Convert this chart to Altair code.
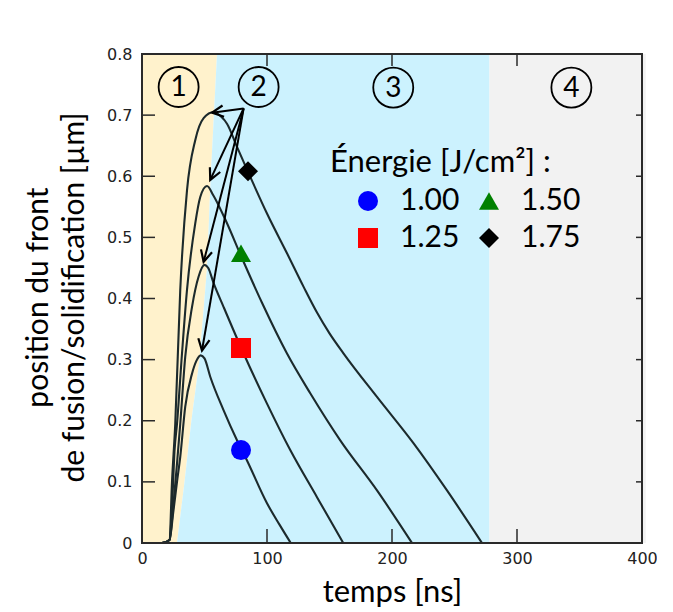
import math
import altair as alt
import pandas as pd

# ---------------- data ----------------
energies = ["1.00", "1.25", "1.50", "1.75"]

c1_t = [16, 22, 25, 28, 30.6, 34.6, 40, 43.5, 47, 50, 54.6, 65.3, 76, 84, 100, 110, 119]
c1_v = [0, 0.005, 0.05, 0.1, 0.141, 0.223, 0.277, 0.298, 0.307, 0.302, 0.272, 0.217, 0.168, 0.135, 0.065, 0.03, 0]

c2_t = [16, 22, 25, 28, 30.6, 34.6, 40, 45.3, 50, 53, 57.3, 65.3, 81.3, 100, 118.6, 140, 161]
c2_v = [0, 0.005, 0.06, 0.13, 0.195, 0.305, 0.386, 0.436, 0.455, 0.45, 0.425, 0.386, 0.31, 0.228, 0.152, 0.075, 0]

c3_t = [16, 22, 24.5, 26, 28, 32, 36, 42.6, 46.6, 52, 57, 66, 80, 96, 116, 134.6, 158.6, 188, 216]
c3_v = [0, 0.005, 0.08, 0.15, 0.195, 0.31, 0.414, 0.523, 0.566, 0.584, 0.569, 0.532, 0.466, 0.393, 0.31, 0.245, 0.168, 0.086, 0]

c4_t = [16, 22, 24, 26.6, 30.6, 36, 42.6, 49.3, 57.5, 63, 68, 76, 86.6, 100, 116, 129.3, 140, 150, 161.3, 188, 217.3, 244, 272]
c4_v = [0, 0.005, 0.1, 0.195, 0.414, 0.577, 0.659, 0.695, 0.705, 0.698, 0.686, 0.648, 0.599, 0.539, 0.474, 0.419, 0.377, 0.343, 0.31, 0.239, 0.163, 0.086, 0]

# markers
mk_t = [79.2, 79.2, 79.2, 84.8]
mk_v = [0.152, 0.319, 0.474, 0.608]
mk_colors = ["#0000FF", "#FF0000", "#008000", "#000000"]
mk_shapes = ["circle", "square", "triangle-up", "diamond"]

# melt-front boundary between zone 1 and zone 2 (value, time)
bd_v = [0, 0.1, 0.2, 0.3, 0.45, 0.6, 0.7, 0.8]
bd_t = [28, 34, 39.5, 46, 52, 55, 57.5, 60]
zone3_end = 278

# zone labels
zone_labels = ["1", "2", "3", "4"]
zone_t = [29.3, 93.3, 201, 343.5]
zone_v = [0.746, 0.746, 0.745, 0.745]

# arrows from label 2 to each peak
arrow_from = (81.3, 0.711)
arrow_tip_t = [48, 49.3, 54.6, 56]
arrow_tip_v = [0.315, 0.46, 0.594, 0.704]

x_ticks = [100, 200, 300]
y_ticks = [0.1, 0.2, 0.3, 0.4, 0.5, 0.6, 0.7]

# ---------------- layout ----------------
W, H = 500, 489
XMAX, YMAX = 400, 0.8
sx = W / XMAX
sy = H / YMAX

xs = alt.Scale(domain=[0, XMAX], nice=False, zero=False)
ys = alt.Scale(domain=[0, YMAX], nice=False, zero=False)

xaxis = alt.Axis(values=[0, 100, 200, 300, 400], ticks=False, tickSize=0, domain=False, grid=False,
                 labelFont="DejaVu Sans", labelFontSize=16, labelColor="#222", labelPadding=7,
                 labelFlush=False,
                 titleFont="Lato", titleFontSize=31, titleFontWeight="normal", titleColor="#000",
                 titleBaseline="alphabetic", titleY=58)
yaxis = alt.Axis(values=[0, 0.1, 0.2, 0.3, 0.4, 0.5, 0.6, 0.7, 0.8], format=".1~f", ticks=False, tickSize=0,
                 domain=False, grid=False, labelFont="DejaVu Sans", labelFontSize=16, labelColor="#222",
                 labelPadding=10, labelFlush=False,
                 titleFont="Lato", titleFontSize=30, titleFontWeight="normal", titleColor="#000",
                 titleBaseline="alphabetic", titleX=-95, titleY=243, titleLineHeight=36, titleAngle=270)
XT = "temps [ns]"
YT = ["position du front", "de fusion/solidification [µm]"]


def X(f):
    return alt.X(f, type="quantitative", scale=xs, axis=xaxis, title=XT)


def Y(f):
    return alt.Y(f, type="quantitative", scale=ys, axis=yaxis, title=YT)


# ---------------- tables ----------------
curves = []
for e, ts, vs in zip(energies, [c1_t, c2_t, c3_t, c4_t], [c1_v, c2_v, c3_v, c4_v]):
    for t, v in zip(ts, vs):
        curves.append({"energie": e, "t": t, "v": v})
curves = pd.DataFrame(curves)

bd = pd.DataFrame({"v": bd_v, "t": bd_t, "t0": [0] * len(bd_v), "t3": [zone3_end] * len(bd_v)})
gray = pd.DataFrame({"t": [zone3_end], "t2": [XMAX + 3], "v": [0], "v2": [YMAX]})

mk = pd.DataFrame({"energie": energies, "t": mk_t, "v": mk_v})
zones = pd.DataFrame({"lab": zone_labels, "t": zone_t, "v": zone_v})

arr = []
for tt, tv in zip(arrow_tip_t, arrow_tip_v):
    dx = (tt - arrow_from[0]) * sx
    dy = -(tv - arrow_from[1]) * sy
    ang = math.degrees(math.atan2(dy, dx)) % 360
    arr.append({"t": arrow_from[0], "v": arrow_from[1], "t2": tt, "v2": tv, "ang": ang})
arr = pd.DataFrame(arr)

frame = pd.DataFrame({"t": [0], "t2": [XMAX], "v": [0], "v2": [YMAX]})
ticks_rows = []
for yv in y_ticks:
    ticks_rows.append({"t": 0, "t2": 13 / sx, "v": yv, "v2": yv})
    ticks_rows.append({"t": XMAX, "t2": XMAX - 6 / sx, "v": yv, "v2": yv})
for xv in x_ticks:
    ticks_rows.append({"t": xv, "t2": xv, "v": 0, "v2": 14 / sy})
    ticks_rows.append({"t": xv, "t2": xv, "v": YMAX, "v2": YMAX - 12 / sy})
ticks = pd.DataFrame(ticks_rows)

# ---------------- layers ----------------
yellow = alt.Chart(bd).mark_area(orient="horizontal", color="#FFF2CC").encode(
    y=Y("v"), x=X("t"), x2="t0")
blue = alt.Chart(bd).mark_area(orient="horizontal", color="#CCF2FE").encode(
    y=Y("v"), x=X("t"), x2="t3")
grayrect = alt.Chart(gray).mark_rect(color="#F2F2F2").encode(
    x=X("t"), x2="t2", y=Y("v"), y2="v2")

lines = alt.Chart(curves).mark_line(color="#1c2a2c", strokeWidth=2.1, interpolate="monotone").encode(
    x=X("t"), y=Y("v"), detail="energie:N", order="t:Q")

arrows = alt.Chart(arr).mark_rule(color="#000", strokeWidth=2).encode(
    x=X("t"), y=Y("v"), x2="t2", y2="v2")
heads = alt.Chart(arr).mark_point(shape="M -1 -0.5 L 0 0 L -1 0.5", size=520, filled=False,
                                  color="#000", strokeWidth=2.2, opacity=1).encode(
    x=X("t2"), y=Y("v2"), angle=alt.Angle("ang:Q", scale=None))

zone_circ = alt.Chart(zones).mark_point(shape="circle", size=1600, filled=False, color="#000",
                                        strokeWidth=1.8, opacity=1).encode(x=X("t"), y=Y("v"))
zone_txt = alt.Chart(zones).mark_text(font="Lato", fontSize=28, color="#000", baseline="middle",
                                      dy=1).encode(x=X("t"), y=Y("v"), text="lab:N")

leg = alt.Legend(title=None, orient="none", legendX=211, legendY=132, columns=2, padding=0,
                 symbolSize=400, symbolStrokeWidth=0, labelFont="Lato", labelFontSize=30,
                 labelColor="#000", labelOffset=17, columnPadding=14, rowPadding=7,
                 symbolOpacity=1)
markers = alt.Chart(mk).mark_point(filled=True, size=400, opacity=1).encode(
    x=X("t"), y=Y("v"),
    color=alt.Color("energie:N", scale=alt.Scale(domain=energies, range=mk_colors), legend=leg),
    shape=alt.Shape("energie:N", scale=alt.Scale(domain=energies, range=mk_shapes), legend=leg))

leg_title = alt.Chart(pd.DataFrame({"txt": ["Énergie [J/cm²] :"]})).mark_text(
    font="Lato", fontSize=31, color="#000", align="left", baseline="alphabetic").encode(
    x=alt.value(188), y=alt.value(117.7), text="txt:N")

frame_l = alt.Chart(frame).mark_rect(filled=False, stroke="#2a2a2a", strokeWidth=2).encode(
    x=X("t"), x2="t2", y=Y("v"), y2="v2")
ticks_l = alt.Chart(ticks).mark_rule(color="#2a2a2a", strokeWidth=1.5).encode(
    x=X("t"), x2="t2", y=Y("v"), y2="v2")

chart = alt.layer(yellow, blue, grayrect, lines, arrows, heads, zone_circ, zone_txt, markers,
                  leg_title, frame_l, ticks_l).properties(
    width=W, height=H,
    autosize=alt.AutoSizeParams(type="none"),
    padding={"left": 134, "top": 46, "right": 15, "bottom": 69},
).configure_view(stroke=None).configure(background="white")

chart.save("out.html", embed_options={"renderer": "svg", "actions": False})
